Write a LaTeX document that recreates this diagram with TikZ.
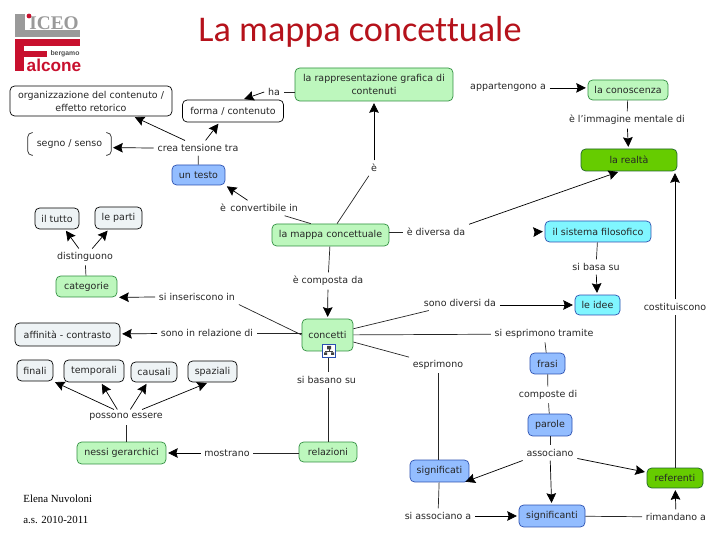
\documentclass[tikz,border=0pt]{standalone}
\usepackage{fontspec}
\setmainfont{DejaVu Sans}
\newfontfamily\titlefont[Ligatures=NoCommon]{Carlito}
\newfontfamily\serifname{Liberation Serif}
\newfontfamily\logofont{Liberation Sans}
\usetikzlibrary{arrows.meta,positioning}
\definecolor{titlered}{HTML}{B5121B}
\definecolor{logogray}{HTML}{9A9A9A}
\definecolor{logored}{HTML}{C8102E}
\definecolor{mapgreen}{HTML}{BDF7BD}
\definecolor{edgegreen}{HTML}{2F8F3F}
\definecolor{mapblue}{HTML}{93BDFF}
\definecolor{edgeblue}{HTML}{2A4FB0}
\definecolor{mapcyan}{HTML}{80F6FF}
\definecolor{mapleaf}{HTML}{66CC00}
\definecolor{mapgray}{HTML}{EEF3F5}
\begin{document}
\begin{tikzpicture}[
  x=0.02cm, y=-0.02cm, >={Stealth[length=5.5pt,width=5.5pt,inset=0.8pt]},
  box/.style={draw, rounded corners=2.6pt, align=center, inner sep=1pt, line width=0.4pt,
              text=black!85, font=\fontsize{5.4}{7.4}\selectfont},
  plain/.style={box, fill=white},
  pale/.style={box, fill=mapgray},
  greenbox/.style={box, fill=mapgreen, draw=edgegreen},
  bluebox/.style={box, fill=mapblue, draw=edgeblue},
  cyanbox/.style={box, fill=mapcyan, draw=edgeblue},
  leafbox/.style={box, fill=mapleaf, draw=edgegreen!70!black},
  lb/.style={inner sep=2pt, text=black!85, font=\fontsize{5.4}{7}\selectfont},
  ln/.style={line width=0.4pt, black!85},
  arr/.style={->, line width=0.4pt, shorten >=1pt},
]
  \useasboundingbox (0,0) rectangle (720,540);

  %% Logo
  \fill[logogray] (15,14) rectangle (25,30);
  \fill[logogray] (15,30) rectangle (80,37);
  \fill[logored] (15,39) rectangle (80,46);
  \fill[logored] (15,46) rectangle (24,71);
  \fill[logored] (24,51) rectangle (47,57);
  \node[inner sep=0, text=logogray, font=\serifname\bfseries\fontsize{11}{10}\selectfont] (iceo) at (54,23) {ICEO};
  \fill[logored] (29,16) circle (2.4);
  \node[inner sep=0, text=black!70, font=\logofont\bfseries\fontsize{3.9}{4}\selectfont] (bergamo) at (65,54) {bergamo};
  \node[inner sep=0, text=logored, font=\logofont\bfseries\fontsize{9.8}{10}\selectfont] (alcone) at (54,65) {alcone};

  %% Title and author
  \node[inner sep=0, text=titlered, font=\titlefont\fontsize{20.6}{24}\selectfont] (title) at (360,32) {La mappa concettuale};
  \node[inner sep=0, anchor=west, font=\serifname\fontsize{6.2}{7}\selectfont] (author) at (23,499) {Elena Nuvoloni};
  \node[inner sep=0, anchor=west, font=\serifname\fontsize{6.2}{7}\selectfont] (year) at (23,520) {a.s. 2010-2011};

  %% Concepts
  \node[plain, minimum width=3.24cm, minimum height=0.60cm] (orgz) at (91,101) {organizzazione del contenuto /\\effetto retorico};
  \node[plain, minimum width=2.02cm, minimum height=0.44cm] (forma) at (233,111) {forma / contenuto};
  \node[box, draw=none, minimum width=1.66cm, minimum height=0.44cm] (segno) at (69.5,144) {segno / senso};
  \draw[ln, rounded corners=2.6pt] ([xshift=3pt]segno.north west) -- (segno.north west) -- (segno.south west) -- ([xshift=3pt]segno.south west);
  \draw[ln, rounded corners=2.6pt] ([xshift=-3pt]segno.north east) -- (segno.north east) -- (segno.south east) -- ([xshift=-3pt]segno.south east);
  \node[bluebox, minimum width=1.06cm, minimum height=0.40cm] (testo) at (198.5,175) {un testo};
  \node[pale, minimum width=0.88cm, minimum height=0.42cm] (tutto) at (57,218.5) {il tutto};
  \node[pale, minimum width=0.94cm, minimum height=0.44cm] (parti) at (118.5,218) {le parti};
  \node[greenbox, minimum width=1.22cm, minimum height=0.42cm] (categorie) at (86.5,286.5) {categorie};
  \node[pale, minimum width=2.10cm, minimum height=0.46cm] (affinita) at (67.5,334.5) {affinità - contrasto};
  \node[pale, minimum width=0.72cm, minimum height=0.42cm] (finali) at (35,370.5) {finali};
  \node[pale, minimum width=1.20cm, minimum height=0.44cm] (temporali) at (94,371) {temporali};
  \node[pale, minimum width=0.92cm, minimum height=0.40cm] (causali) at (154,372) {causali};
  \node[pale, minimum width=0.98cm, minimum height=0.42cm] (spaziali) at (212.5,371.5) {spaziali};
  \node[greenbox, minimum width=1.78cm, minimum height=0.44cm] (nessi) at (121.5,453) {nessi gerarchici};
  \node[greenbox, minimum width=1.16cm, minimum height=0.40cm] (relazioni) at (328,452) {relazioni};
  \node[greenbox, minimum width=1.02cm, minimum height=0.64cm] (concetti) at (327.5,335) {concetti};
  \node[greenbox, minimum width=2.34cm, minimum height=0.44cm] (mappa) at (330.5,235) {la mappa concettuale};
  \node[greenbox, minimum width=3.16cm, minimum height=0.66cm] (rappr) at (374,84.5) {la rappresentazione grafica di\\contenuti};
  \node[greenbox, minimum width=1.60cm, minimum height=0.40cm] (conoscenza) at (628,90) {la conoscenza};
  \node[leafbox, minimum width=1.92cm, minimum height=0.44cm] (realta) at (629,160) {la realtà};
  \node[cyanbox, minimum width=2.12cm, minimum height=0.42cm] (sistema) at (598,231.5) {il sistema filosofico};
  \node[cyanbox, minimum width=0.90cm, minimum height=0.40cm] (idee) at (597.5,305) {le idee};
  \node[bluebox, minimum width=0.70cm, minimum height=0.42cm] (frasi) at (547.5,363.5) {frasi};
  \node[bluebox, minimum width=0.88cm, minimum height=0.44cm] (parole) at (550,425) {parole};
  \node[bluebox, minimum width=1.18cm, minimum height=0.44cm] (significati) at (439.5,471) {significati};
  \node[bluebox, minimum width=1.32cm, minimum height=0.44cm] (significanti) at (552,516) {significanti};
  \node[leafbox, minimum width=1.12cm, minimum height=0.40cm] (referenti) at (675,478) {referenti};

  %% Linking phrases
  \node[lb] (ha) at (274,92) {ha};
  \node[lb] (crea) at (198,148) {crea tensione tra};
  \node[lb] (conv) at (259,208) {è\, convertibile in};
  \node[lb] (distinguono) at (85,257) {distinguono};
  \node[lb] (inseriscono) at (197,297) {si inseriscono in};
  \node[lb] (sonorel) at (207,333) {sono in relazione di};
  \node[lb] (possono) at (126,417) {possono essere};
  \node[lb] (mostrano) at (227,453) {mostrano};
  \node[lb] (basano) at (326.5,380) {si basano su};
  \node[lb] (composta) at (328,281) {è composta da};
  \node[lb] (e) at (374,168) {è};
  \node[lb] (diversa) at (436,232) {è diversa da};
  \node[lb] (appartengono) at (508,87) {appartengono a};
  \node[lb] (immagine) at (627,120) {è l'immagine mentale di};
  \node[lb] (basa) at (596,267) {si basa su};
  \node[lb] (diversi) at (460,303) {sono diversi da};
  \node[lb] (costituiscono) at (675,307) {costituiscono};
  \node[lb] (tramite) at (544,334) {si esprimono tramite};
  \node[lb] (esprimono) at (438,365) {esprimono};
  \node[lb] (composte) at (548,395) {composte di};
  \node[lb] (associano) at (550,453) {associano};
  \node[lb] (associanoa) at (438,516) {si associano a};
  \node[lb] (rimandano) at (676,517) {rimandano a};
  \coordinate (stub) at (535,232);

  %% Connectors into the linking phrases
  \draw[ln] (rappr.west |- ha) -- (ha);
  \draw[ln] (testo) -- (crea);
  \draw[ln] (mappa.150) -- (conv);
  \draw[ln] (categorie) -- (distinguono);
  \draw[ln] (concetti.west) -- (inseriscono.south east);
  \draw[ln] (concetti.west |- sonorel) -- (sonorel);
  \draw[ln] (nessi.north -| possono) -- (possono);
  \draw[ln] (relazioni.west |- mostrano) -- (mostrano);
  \draw[ln] (relazioni |- concetti.south) -- (relazioni |- basano.north);
  \draw[ln] (relazioni |- basano.south) -- (relazioni.north);
  \draw[ln] (mappa) -- (composta);
  \draw[ln] (mappa.60) -- (e);
  \draw[ln] (mappa.east |- diversa) -- (diversa);
  \draw[ln] (conoscenza) -- (immagine);
  \draw[ln] (sistema) -- (basa);
  \draw[ln] (concetti) -- (diversi);
  \draw[ln] (concetti) -- (tramite);
  \draw[ln] (tramite) -- (frasi);
  \draw[ln] (concetti) -- (esprimono);
  \draw[ln] (esprimono) -- (esprimono |- significati.north);
  \draw[ln] (frasi) -- (composte);
  \draw[ln] (composte) -- (parole);
  \draw[ln] (parole) -- (associano);
  \draw[ln] (significati) -- (associanoa);
  \draw[ln] (significanti) -- (rimandano);
  \draw[ln] (referenti) -- (referenti |- costituiscono.south);

  %% Submap icon on concetti
  \node[draw=edgeblue, fill=white, minimum size=0.26cm, inner sep=0, line width=0.5pt] (icon) at (329,351) {};
  \fill[black!75] (327,346) rectangle (331,349.5) (324,352.5) rectangle (327,355) (331,352.5) rectangle (334,355);
  \draw[black!75, line width=0.25pt] (329,349.5) -- (329,351) (325.5,352.5) -- (325.5,351) -- (332.5,351) -- (332.5,352.5);

  %% Arrows out of the linking phrases
  \draw[arr] (ha.west) -- (forma.50);
  \draw[arr] (crea.150) -- (orgz.340);
  \draw[arr] (crea.45) -- (forma.220);
  \draw[arr] (crea.west) -- (segno.355);
  \draw[arr] (conv) -- (testo.south east);
  \draw[arr] (e) -- (e |- rappr.south);
  \draw[arr] (diversa.north east) -- (realta.231);
  \draw[arr] (appartengono.east |- conoscenza.177) -- (conoscenza.177);
  \draw[arr] (immagine) -- (realta);
  \draw[arr] (stub) -- (sistema.west);
  \draw[arr] (basa) -- (idee);
  \draw[arr] (diversi.east |- idee) -- (idee);
  \draw[arr] (costituiscono) -- (costituiscono |- realta.south);
  \draw[arr] (composta) -- (concetti);
  \draw[arr] (inseriscono.west) -- (categorie.south east);
  \draw[arr] (sonorel) -- (affinita);
  \draw[arr] (distinguono) -- (tutto);
  \draw[arr] (distinguono) -- (parti);
  \draw[arr] (possono.148) -- (finali.south east);
  \draw[arr] (possono.139) -- (temporali);
  \draw[arr] (possono.60) -- (causali);
  \draw[arr] (possono.25) -- (spaziali.250);
  \draw[arr] (mostrano) -- (nessi);
  \draw[arr] (associano.south west) -- (significati.335);
  \draw[arr] (associano) -- (significanti);
  \draw[arr] (associano) -- (referenti);
  \draw[arr] (associanoa) -- (significanti);
  \draw[arr] (rimandano) -- (referenti);
\end{tikzpicture}
\end{document}
